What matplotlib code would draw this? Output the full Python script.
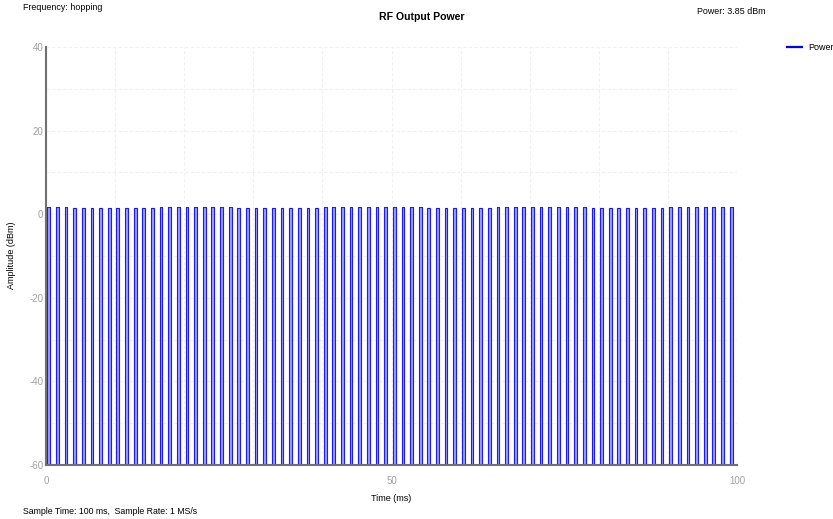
import numpy as np
import matplotlib
matplotlib.use("Agg")
import matplotlib.pyplot as plt
from matplotlib.lines import Line2D

plt.rcParams["font.family"] = ["Liberation Sans", "DejaVu Sans"]
plt.rcParams["axes.unicode_minus"] = False

# pulse start times (ms), measured from the trace
pulse_starts = [0.2, 1.45, 2.7, 3.95, 5.2, 6.45, 7.7, 8.95, 10.2, 11.45,
                12.7, 13.95, 15.2, 16.45, 17.7, 18.95, 20.2, 21.45, 22.7, 23.95,
                25.2, 26.45, 27.7, 28.95, 30.2, 31.45, 32.7, 33.95, 35.2, 36.45,
                37.7, 38.95, 40.2, 41.45, 42.7, 43.95, 45.2, 46.45, 47.7, 48.95,
                50.2, 51.45, 52.7, 53.95, 55.2, 56.45, 57.7, 58.95, 60.2, 61.45,
                62.7, 63.95, 65.2, 66.45, 67.7, 68.95, 70.2, 71.45, 72.7, 73.95,
                75.2, 76.45, 77.7, 78.95, 80.2, 81.45, 82.7, 83.95, 85.2, 86.45,
                87.7, 88.95, 90.2, 91.45, 92.7, 93.95, 95.2, 96.45, 97.7, 98.95]
# pulse top levels (dBm)
pulse_tops = [1.8, 1.8, 1.8, 1.5, 1.5, 1.5, 1.5, 1.5, 1.5, 1.5,
              1.5, 1.5, 1.6, 1.8, 1.8, 1.8, 1.8, 1.8, 1.8, 1.8,
              1.8, 1.8, 1.5, 1.5, 1.5, 1.5, 1.5, 1.4, 1.4, 1.4,
              1.4, 1.4, 1.65, 1.65, 1.8, 1.8, 1.8, 1.8, 1.8, 1.75,
              1.75, 1.75, 1.7, 1.7, 1.45, 1.45, 1.45, 1.4, 1.4, 1.45,
              1.45, 1.45, 1.75, 1.75, 1.75, 1.7, 1.7, 1.7, 1.7, 1.65,
              1.65, 1.65, 1.7, 1.4, 1.4, 1.4, 1.4, 1.4, 1.6, 1.6,
              1.6, 1.6, 1.75, 1.75, 1.8, 1.8, 1.75, 1.75, 1.8, 1.75]
pulse_width = 0.4
floor_level = -60

# build the trace
t = [0.0]
y = [floor_level]
for s, top in zip(pulse_starts, pulse_tops):
    t += [s, s, s + pulse_width, s + pulse_width]
    y += [floor_level, top, top, floor_level]
t.append(100.0)
y.append(floor_level)
t = np.array(t)
y = np.array(y)

fig = plt.figure(figsize=(8.33, 5.19), dpi=100)
ax = fig.add_axes([46 / 833, 1 - 465 / 519, (737 - 46) / 833, (465 - 47) / 519])

for s, top in zip(pulse_starts, pulse_tops):
    ax.fill_between([s, s + pulse_width], floor_level, top, color=(0.62, 0.62, 1.0), lw=0)
ax.plot(t, y, color="#1a1aff", lw=0.8)

ax.set_xlim(0, 100)
ax.set_ylim(-60, 40)
ax.set_xticks([0, 50, 100])
ax.set_yticks([-60, -40, -20, 0, 20, 40])
ax.set_xticks(np.arange(0, 101, 10), minor=True)
ax.set_yticks(np.arange(-60, 41, 10), minor=True)
ax.grid(True, which="both", color="#f0f0f0", lw=0.8, ls=(0, (3, 2)))
ax.set_axisbelow(True)
ax.tick_params(which="both", length=0)
ax.tick_params(labelsize=7, labelcolor="#a0a0a0")
ax.tick_params(axis="x", pad=8)
ax.tick_params(axis="y", pad=2)
for side in ("top", "right"):
    ax.spines[side].set_visible(False)
for side in ("left", "bottom"):
    ax.spines[side].set_color("#707070")
    ax.spines[side].set_linewidth(1.5)

ax.set_xlabel("Time (ms)", fontsize=6.5, labelpad=6)
fig.text(12 / 833, 1 - 255 / 519, "Amplitude (dBm)", rotation=90, ha="center", va="center",
         fontsize=6.5)

fig.text(422 / 833, 1 - 17 / 519, "RF Output Power", ha="center", va="center",
         fontsize=7.6, fontweight="bold")
fig.text(23 / 833, 1 - 8 / 519, "Frequency: hopping", ha="left", va="center", fontsize=6.4)
fig.text(697 / 833, 1 - 12 / 519, "Power: 3.85 dBm", ha="left", va="center", fontsize=6.4)
fig.text(23 / 833, 1 - 511 / 519, "Sample Time: 100 ms,  Sample Rate: 1 MS/s",
         ha="left", va="center", fontsize=6.3)

handle = Line2D([], [], color="#0000ff", lw=1.6, label="Power")
fig.legend(handles=[handle], loc="upper left", bbox_to_anchor=(787 / 833, 1 - 43 / 519),
           frameon=False, fontsize=6.5, handlelength=1.66, handletextpad=0.66,
           borderaxespad=0, borderpad=0)

fig.savefig("out.png", dpi=100)
